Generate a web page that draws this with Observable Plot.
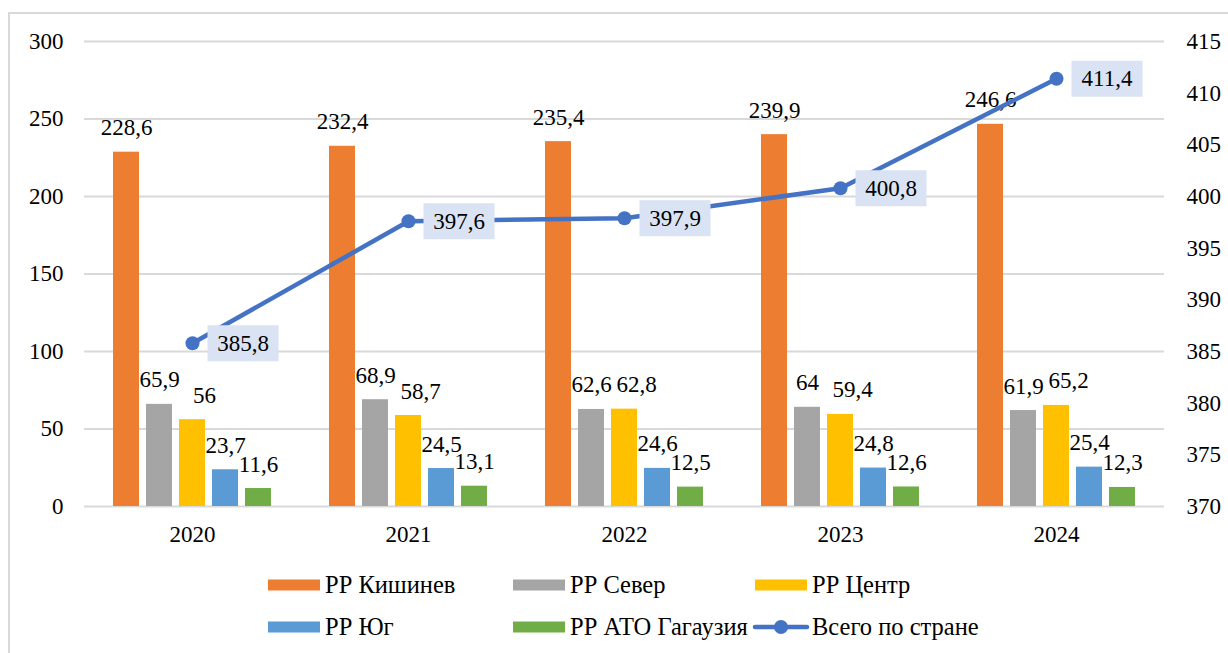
<!DOCTYPE html>
<html>
<head>
<meta charset="utf-8">
<script src="https://cdn.jsdelivr.net/npm/d3@7"></script>
<script src="https://cdn.jsdelivr.net/npm/@observablehq/plot@0.6"></script>
<style>
  body { margin: 0; background: #fff; }
  #wrap { position: relative; width: 1228px; height: 653px; overflow: hidden; background: #fff;
          font-family: "Liberation Serif", "Tinos", "Times New Roman", "DejaVu Serif", serif; }
  .layer { position: absolute; left: 0; top: 0; }
</style>
</head>
<body>
<div id="wrap"></div>
<script>
// ---- data ----
const years = ["2020", "2021", "2022", "2023", "2024"];
const seriesNames = ["РР Кишинев", "РР Север", "РР Центр", "РР Юг", "РР АТО Гагаузия"];
const kishinev = [228.6, 232.4, 235.4, 239.9, 246.6];
const sever = [65.9, 68.9, 62.6, 64, 61.9];
const centr = [56, 58.7, 62.8, 59.4, 65.2];
const yug = [23.7, 24.5, 24.6, 24.8, 25.4];
const gagauzia = [11.6, 13.1, 12.5, 12.6, 12.3];
const totalName = "Всего по стране";
const total = [385.8, 397.6, 397.9, 400.8, 411.4];
const leftTicks = [0, 50, 100, 150, 200, 250, 300];
const rightTicks = [370, 375, 380, 385, 390, 395, 400, 405, 410, 415];
const seriesColors = ["#ed7d31", "#a5a5a5", "#ffc000", "#5b9bd5", "#70ad47"];
const lineColor = "#4472c4";

// ---- tables built from the arrays ----
const seriesValues = [kishinev, sever, centr, yug, gagauzia];
const bars = [];
years.forEach((yr, i) => seriesNames.forEach((s, j) => bars.push({year: yr, series: s, value: seriesValues[j][i]})));
const totals = years.map((yr, i) => ({year: yr, value: total[i]}));
const fmt = v => String(v).replace(".", ",");
const shifted = seriesNames[2]; // labels of this series are nudged right to avoid overlaps

const W = 1228, H = 560;
const margins = {marginLeft: 83, marginRight: 63, marginTop: 41, marginBottom: 54};
const font = "Liberation Serif, Tinos, Times New Roman, DejaVu Serif, serif";
const baseStyle = {fontFamily: font, fontSize: "23px", color: "#000", background: "transparent", overflow: "visible"};

const wrap = document.getElementById("wrap");

// frame + legend layer
const deco = d3.create("svg").attr("class", "layer").attr("width", W).attr("height", 653)
  .attr("font-family", font).attr("font-size", 24.5);
deco.append("path").attr("d", "M9,660V13H1240").attr("fill", "none").attr("stroke", "#d9d9d9").attr("stroke-width", 2);
wrap.appendChild(deco.node());

// bars layer
const barPlot = Plot.plot({
  width: W, height: H, ...margins,
  style: baseStyle,
  fx: {domain: years, padding: 0, label: null, axis: "bottom", tickSize: 0, tickPadding: 19},
  x: {domain: seriesNames, paddingInner: 0.212, paddingOuter: 0.878, axis: null},
  y: {domain: [0, 300], label: null, axis: null},
  color: {domain: seriesNames, range: seriesColors},
  marks: [
    Plot.gridY(leftTicks, {stroke: "#d9d9d9", strokeOpacity: 1, strokeWidth: 2}),
    Plot.axisY(leftTicks, {anchor: "left", tickSize: 0, tickPadding: 21, label: null, tickFormat: d => String(d), fontFamily: font}),
    Plot.barY(bars, {fx: "year", x: "series", y: "value", fill: "series"}),
    Plot.text(bars.filter(d => d.series !== shifted), {fx: "year", x: "series", y: "value", text: d => fmt(d.value), lineAnchor: "bottom", dy: -17, fill: "#000", fontFamily: font}),
    Plot.text(bars.filter(d => d.series === shifted), {fx: "year", x: "series", y: "value", text: d => fmt(d.value), lineAnchor: "bottom", dy: -17, dx: 12, fill: "#000", fontFamily: font})
  ]
});
barPlot.classList.add("layer");
wrap.appendChild(barPlot);

// line layer (right axis)
const boxSymbol = {draw(ctx) { ctx.rect(15, -18, 71, 36); }};
const linePlot = Plot.plot({
  width: W, height: H, ...margins,
  style: baseStyle,
  x: {type: "band", domain: years, padding: 0, axis: null},
  y: {domain: [370, 415], label: null, axis: null},
  marks: [
    Plot.axisY(rightTicks, {anchor: "right", tickSize: 0, tickPadding: 21, label: null, tickFormat: d => String(d), fontFamily: font}),
    Plot.line(totals, {x: "year", y: "value", stroke: lineColor, strokeWidth: 4.5, curve: "linear"}),
    Plot.dot(totals, {x: "year", y: "value", r: 7, fill: lineColor, stroke: "none"}),
    Plot.dot(totals, {x: "year", y: "value", symbol: boxSymbol, r: 10, fill: "#dae3f3", stroke: "none"}),
    Plot.text(totals, {x: "year", y: "value", text: d => fmt(d.value), dx: 50.5, textAnchor: "middle", lineAnchor: "middle", fill: "#000", fontFamily: font})
  ]
});
linePlot.classList.add("layer");
wrap.appendChild(linePlot);

// legend
const legendItems = seriesNames.map((s, i) => ({name: s, color: seriesColors[i], type: "bar"}))
  .concat([{name: totalName, color: lineColor, type: "line"}]);
const colX = [268, 513, 755], rowY = [585, 627];
legendItems.forEach((it, k) => {
  const x = colX[k % 3], y = rowY[Math.floor(k / 3)];
  const g = deco.append("g");
  if (it.type === "bar") {
    g.append("rect").attr("x", x).attr("y", y - 5.5).attr("width", 52).attr("height", 11).attr("fill", it.color);
  } else {
    g.append("line").attr("x1", x).attr("x2", x + 52).attr("y1", y).attr("y2", y)
      .attr("stroke", it.color).attr("stroke-width", 4.5).attr("stroke-linecap", "round");
    g.append("circle").attr("cx", x + 26).attr("cy", y).attr("r", 7).attr("fill", it.color);
  }
  g.append("text").attr("x", x + 57).attr("y", y).attr("dy", "0.33em").text(it.name);
});
</script>
</body>
</html>
